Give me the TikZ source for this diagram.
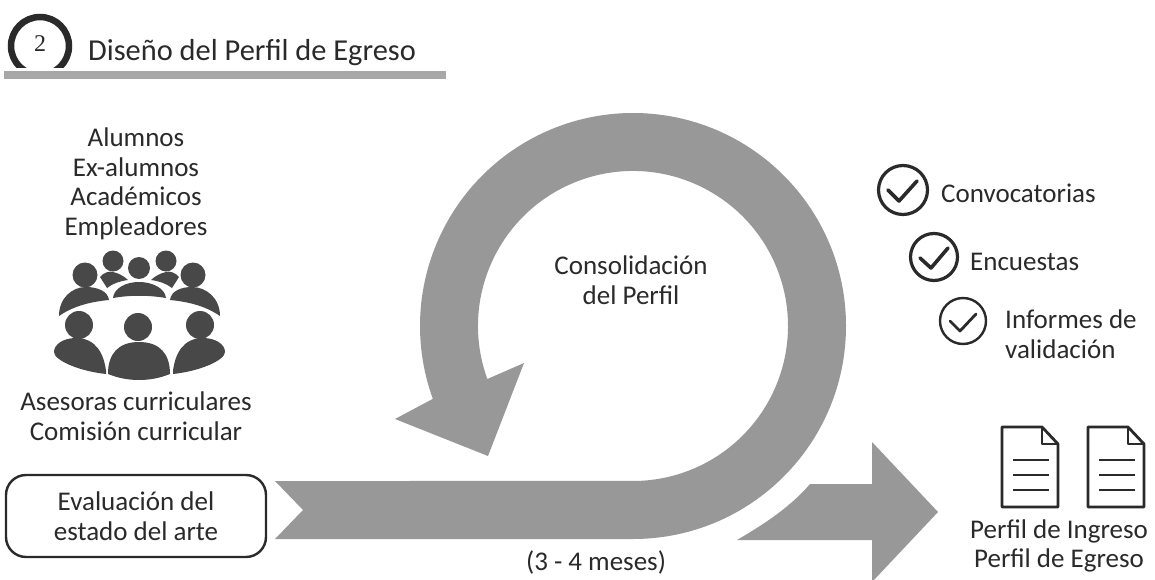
\documentclass[tikz,border=0pt]{standalone}
\usepackage{fontspec}
\setmainfont{Carlito}
\newfontfamily\numfont{Liberation Serif}
\definecolor{ribbon}{HTML}{989898}
\definecolor{ink}{HTML}{2A2A2A}
\definecolor{people}{HTML}{484848}
\tikzset{
 x=1pt,y=-1pt,
 lab/.style={font=\fontsize{27}{29.5}\selectfont,text=ink,align=center,inner sep=0pt},
 rib/.style={fill=ribbon,draw=none},
 ring/.style={circle,draw=ink,inner sep=0pt},
 tick/.style={draw=ink,line cap=round,line join=round},
 doc/.style={draw=ink,line width=2.8pt,line join=round},
}
\newcommand{\docicon}[3]{%
 \begin{scope}[shift={(#2,#3)}]
 \coordinate (#1) at (0,0);
 \draw[doc,fill=white] (#1) -- (40,0) -- (56,17) -- (56,80) -- (0,80) -- cycle;
 \draw[doc] (40,0) -- (40,17) -- (56,17);
 \draw[line width=2.8pt,draw=ink] (11,33) -- (47,33) (11,48) -- (47,48) (11,63) -- (47,63);
 \end{scope}}
\begin{document}
\begin{tikzpicture}
\useasboundingbox (0,0) rectangle (1155,580);
\fill[white] (0,0) rectangle (1155,580);
% header
\fill[ribbon!85!white] (4,71) rectangle (446,79);
\begin{scope}
\clip (0,0) rectangle (90,68);
\node[ring,line width=6.5pt,minimum size=58pt] (num) at (40,46) {};
\end{scope}
\node[font=\fontsize{24}{26}\selectfont\numfont,text=ink] (numt) at (40,44) {2};
\node[lab,anchor=west,font=\fontsize{30.4}{32}\selectfont] (title) at (88,53) {Diseño del Perfil de Egreso};
% left
\node[lab] (grp) at (136,184) {Alumnos\\Ex-alumnos\\Académicos\\Empleadores};
\node[lab] (adv) at (136,416) {Asesoras curriculares\\Comisión curricular};
% people icon
\fill[people] (113,261) circle (10.5) (139,268) circle (11) (166,261) circle (10.5) (85,275) circle (12.5) (193,275) circle (12.5);
\fill[people] (100,277) .. controls (104,272) and (110,271) .. (113,272) .. controls (118,273) and (124,276) .. (128,280) .. controls (120,281) and (112,284) .. (107,288) -- cycle;
\fill[people] (179,277) .. controls (175,272) and (169,271) .. (166,272) .. controls (161,273) and (155,276) .. (151,280) .. controls (159,281) and (167,284) .. (172,288) -- cycle;
\fill[people] (113,298) .. controls (114,288) and (126,282) .. (139,282) .. controls (152,282) and (165,288) .. (166,298) .. controls (148,295) and (130,295) .. (113,298) -- cycle;
\fill[people] (59,316) .. controls (59,298) and (72,287) .. (86,287) .. controls (97,287) and (108,291) .. (109,300) .. controls (88,302) and (72,307) .. (59,316) -- cycle;
\fill[people] (220,316) .. controls (220,298) and (206,287) .. (192,287) .. controls (181,287) and (171,291) .. (170,300) .. controls (191,302) and (207,307) .. (220,316) -- cycle;
\fill[people] (79,325) circle (14) (138,327) circle (14) (200,325) circle (14);
\fill[people] (106,371) .. controls (104,354) and (96,338) .. (76,338) .. controls (64,338) and (54,344) .. (54,352) .. controls (54,360) and (78,371) .. (106,374) -- cycle;
\fill[people] (173,371) .. controls (175,354) and (183,338) .. (203,338) .. controls (215,338) and (225,344) .. (225,352) .. controls (225,360) and (201,371) .. (173,374) -- cycle;
\fill[people] (108,374) .. controls (108,354) and (118,342) .. (139,342) .. controls (160,342) and (170,354) .. (170,374) .. controls (160,378) and (150,380) .. (139,380) .. controls (128,380) and (118,378) .. (108,374) -- cycle;
% box
\node[draw=ink,line width=2.4pt,rounded corners=20pt,minimum width=260pt,minimum height=82pt,lab] (eval) at (136,516) {Evaluación del\\estado del arte};
% ribbon
\fill[rib] (275,481) -- (303,510) -- (275,539) -- (633,539)
 arc[start angle=90,end angle=-200,radius=213]
 -- (395,419) -- (488,456) -- (524,363) -- (487.35,379)
 arc[start angle=-200,end angle=90,radius=155] -- cycle;
\fill[rib] (737,540) .. controls (768,522) and (792,505) .. (810,484) -- (872,484) -- (872,442) -- (938,512) -- (872,582) -- (872,540) -- cycle;
\node[lab] (cons) at (631,280) {Consolidación\\del Perfil};
\node[lab] (dur) at (596,562) {(3 - 4 meses)};
% right
\node[ring,line width=3.2pt,minimum size=49pt] (c1) at (903,190) {};
\draw[tick,line width=3.6pt] (888,190) -- (899,201) -- (917,181);
\node[lab,anchor=west] (t1) at (941,193) {Convocatorias};
\node[ring,line width=3.2pt,minimum size=47pt] (c2) at (934,257) {};
\draw[tick,line width=3.6pt] (920,258) -- (931,268) -- (948,248);
\node[lab,anchor=west] (t2) at (970,262) {Encuestas};
\node[ring,line width=2.4pt,minimum size=46pt] (c3) at (963,321) {};
\draw[tick,line width=2.8pt] (950,321) -- (960,331) -- (976,314);
\node[lab,anchor=west,align=left] (t3) at (1005,334) {Informes de\\validación};
\docicon{d1}{1002}{427}
\docicon{d2}{1088}{427}
\node[lab] (prof) at (1059,546) {Perfil de Ingreso\\Perfil de Egreso};
\end{tikzpicture}
\end{document}
